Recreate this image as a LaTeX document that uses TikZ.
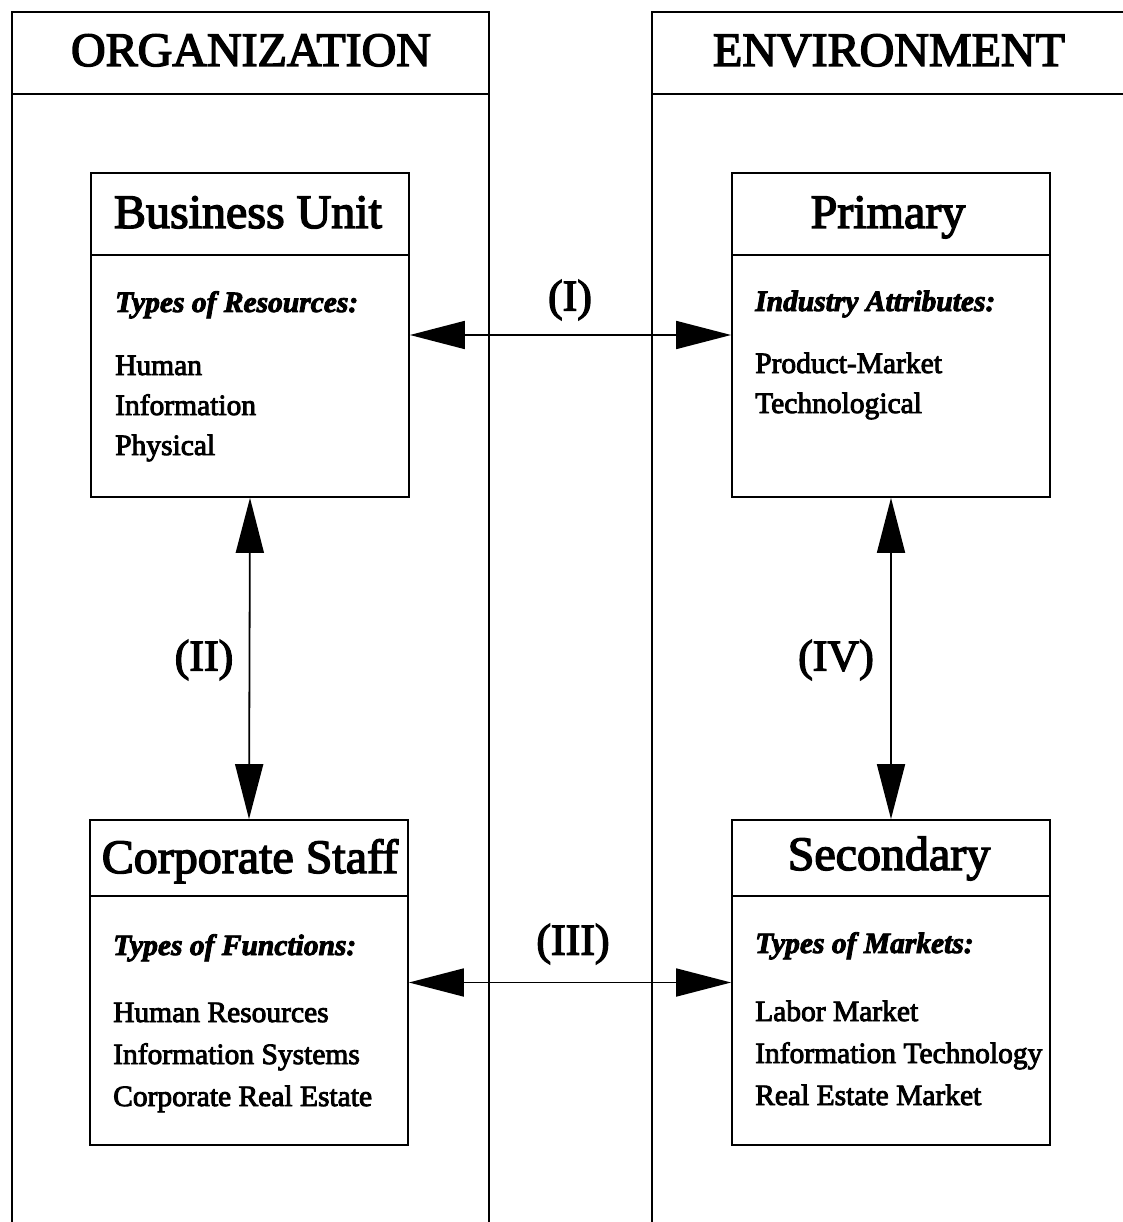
\documentclass[tikz,border=0pt]{standalone}
\usepackage{fontspec}
\setmainfont{Liberation Serif}[FakeBold=3]
\usetikzlibrary{arrows.meta}
\begin{document}
\begin{tikzpicture}[x=1pt,y=-1pt,
  frame/.style={line width=1.8pt},
  unitbox/.style={draw,line width=1.8pt,rectangle,minimum width=318pt,minimum height=324pt,inner sep=0pt},
  title/.style={anchor=base,font=\fontsize{48}{50}\selectfont,inner sep=0pt},
  colhead/.style={anchor=base,font=\fontsize{48}{50}\selectfont,inner sep=0pt},
  caption/.style={anchor=base west,font=\fontsize{29.5}{31}\selectfont\bfseries\itshape,inner sep=0pt},
  item/.style={anchor=base west,font=\fontsize{29.5}{31}\selectfont,inner sep=0pt},
  link/.style={line width=1.8pt,{Triangle[length=55pt,width=28pt]}-{Triangle[length=55pt,width=28pt]}},
  linklabel/.style={font=\fontsize{44}{46}\selectfont,inner sep=0pt}
]
\useasboundingbox (0,0) rectangle (1123,1222);

% columns
\draw[frame] (12,1222) -- (12,12) -- (489,12) -- (489,1222);
\draw[frame] (12,94) -- (489,94);
\draw[frame] (652,1222) -- (652,12) -- (1123,12);
\draw[frame] (652,94) -- (1123,94);
\node[colhead] (org) at (251,66) {ORGANIZATION};
\node[colhead] (env) at (889,66) {ENVIRONMENT};

% boxes
\node[unitbox] (bu) at (250,335) {};
\node[unitbox] (pr) at (891,335) {};
\node[unitbox,minimum height=325pt] (cs) at (249,982.5) {};
\node[unitbox,minimum height=325pt] (se) at (891,982.5) {};

\foreach \b in {bu,pr}
  \draw[frame] ([yshift=-83pt]\b.north west) -- ([yshift=-83pt]\b.north east);
\foreach \b in {cs,se}
  \draw[frame] ([yshift=-77pt]\b.north west) -- ([yshift=-77pt]\b.north east);

% box titles
\node[title] (bu-t) at (248,228) {Business Unit};
\node[title] (pr-t) at (888,228) {Primary};
\node[title] (cs-t) at (250,873) {Corporate Staff};
\node[title] (se-t) at (889,870) {Secondary};

% box contents
\node[caption] (bu-c) at (115,312) {Types of Resources:};
\node[item] (bu-1) at (115,375) {Human};
\node[item] (bu-2) at (115,415) {Information};
\node[item] (bu-3) at (115,455) {Physical};

\node[caption] (pr-c) at (755,311) {Industry Attributes:};
\node[item] (pr-1) at (755,373) {Product-Market};
\node[item] (pr-2) at (755,413) {Technological};

\node[caption] (cs-c) at (113,955) {Types of Functions:};
\node[item] (cs-1) at (113,1022) {Human Resources};
\node[item] (cs-2) at (113,1064) {Information Systems};
\node[item] (cs-3) at (113,1106) {Corporate Real Estate};

\node[caption] (se-c) at (755,953) {Types of Markets:};
\node[item] (se-1) at (755,1021) {Labor Market};
\node[item] (se-2) at (755,1063) {Information Technology};
\node[item] (se-3) at (755,1105) {Real Estate Market};

% relations
\draw[link] (bu.east) -- (pr.west);
\draw[link] (bu.south) -- (cs.north);
\draw[link] (cs.east) -- (se.west);
\draw[link] (pr.south) -- (se.north);

\node[linklabel] (l1) at (570,300) {(I)};
\node[linklabel] (l2) at (204,660) {(II)};
\node[linklabel] (l3) at (573,944) {(III)};
\node[linklabel] (l4) at (836,660) {(IV)};
\end{tikzpicture}
\end{document}
